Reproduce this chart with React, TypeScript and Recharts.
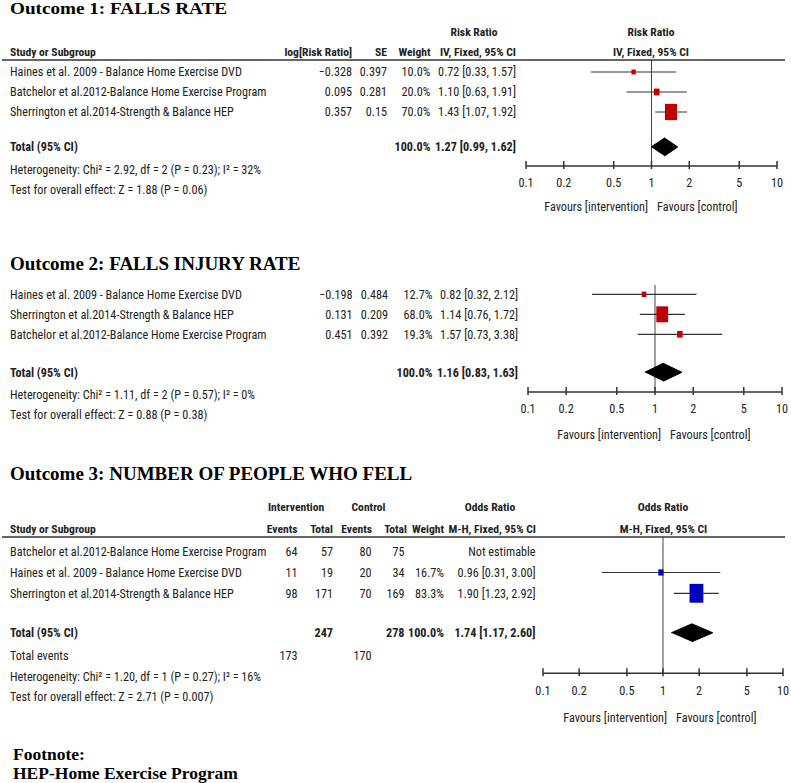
import React from 'react';
import { ScatterChart, Scatter, XAxis, YAxis, ReferenceLine } from 'recharts';

// Outcome 1: falls rate (risk ratio, IV fixed)
const o1Studies = [
  'Haines et al. 2009 - Balance Home Exercise DVD',
  'Batchelor et al.2012-Balance Home Exercise Program',
  'Sherrington et al.2014-Strength & Balance HEP',
];
const o1LogRR = ['\u22120.328', '0.095', '0.357'];
const o1SE = ['0.397', '0.281', '0.15'];
const o1Weight = [10.0, 20.0, 70.0];
const o1Est = [0.72, 1.1, 1.43];
const o1Lo = [0.33, 0.63, 1.07];
const o1Hi = [1.57, 1.91, 1.92];
const o1Total = [1.27, 0.99, 1.62];

// Outcome 2: falls injury rate
const o2Studies = [
  'Haines et al. 2009 - Balance Home Exercise DVD',
  'Sherrington et al.2014-Strength & Balance HEP',
  'Batchelor et al.2012-Balance Home Exercise Program',
];
const o2LogRR = ['\u22120.198', '0.131', '0.451'];
const o2SE = ['0.484', '0.209', '0.392'];
const o2Weight = [12.7, 68.0, 19.3];
const o2Est = [0.82, 1.14, 1.57];
const o2Lo = [0.32, 0.76, 0.73];
const o2Hi = [2.12, 1.72, 3.38];
const o2Total = [1.16, 0.83, 1.63];

// Outcome 3: number of people who fell (odds ratio, M-H fixed)
const o3Studies = [
  'Batchelor et al.2012-Balance Home Exercise Program',
  'Haines et al. 2009 - Balance Home Exercise DVD',
  'Sherrington et al.2014-Strength & Balance HEP',
];
const o3IntEvents = [64, 11, 98];
const o3IntTotal = [57, 19, 171];
const o3CtlEvents = [80, 20, 70];
const o3CtlTotal = [75, 34, 169];
const o3Weight: (number | null)[] = [null, 16.7, 83.3];
const o3Est: (number | null)[] = [null, 0.96, 1.9];
const o3Lo: (number | null)[] = [null, 0.31, 1.23];
const o3Hi: (number | null)[] = [null, 3.0, 2.92];
const o3Total = [1.74, 1.17, 2.6];
const o3TotalN = [247, 278];
const o3TotalEvents = [173, 170];

const xTicks = [0.1, 0.2, 0.5, 1, 2, 5, 10];

const NARROW = "'Liberation Sans Narrow', 'Arial Narrow', 'Roboto Condensed', sans-serif";
const SERIF = "'Liberation Serif', 'Times New Roman', serif";
const INK = '#222';
const FS = 12.2;
const HFS = 11.6;

const ci = (e: number, l: number, h: number) => `${e.toFixed(2)} [${l.toFixed(2)}, ${h.toFixed(2)}]`;
const pct = (w: number) => `${w.toFixed(1)}%`;

type Row = { y: number; label: string; cells: string[]; bold?: boolean };
type Pt = { x: number; y: number; lo: number; hi: number; w: number };

type PanelProps = {
  plotTop: number;
  plotBottom: number;
  firstRow: number;
  rowGap: number;
  axisLeft: number;
  axisRight: number;
  cellX: number[];
  rows: Row[];
  points: Pt[];
  total: number[];
  totalRow: number;
  color: string;
};

function XTick(props: any) {
  const { x, y, payload } = props;
  return (
    <g>
      <line x1={x} x2={x} y1={y - 5} y2={y + 3} stroke="#333" strokeWidth={1.5} />
      <text x={x} y={y + 17} dy="0.35em" textAnchor="middle" fill={INK} fontFamily={NARROW} fontSize={FS}>
        {String(payload.value)}
      </text>
    </g>
  );
}

function ForestPanel(p: PanelProps) {
  const h = p.plotBottom - p.plotTop;
  const domain: [number, number] = [
    (p.plotTop - p.firstRow) / p.rowGap,
    (p.plotBottom - p.firstRow) / p.rowGap,
  ];
  const half = 9 / p.rowGap;
  const diamond = [
    { x: p.total[1], y: p.totalRow },
    { x: p.total[0], y: p.totalRow - half },
    { x: p.total[2], y: p.totalRow },
    { x: p.total[0], y: p.totalRow + half },
  ];

  const RowTick = (tp: any) => {
    const row = p.rows.find((r) => r.y === tp.payload.value);
    if (!row) return <g />;
    const weight = row.bold ? 'bold' : 'normal';
    return (
      <g fontFamily={NARROW} fontSize={FS} fill={INK} fontWeight={weight}>
        <text x={10} y={tp.y} dy="0.35em">{row.label}</text>
        {row.cells.map((c, i) => (
          <text key={i} x={p.cellX[i]} y={tp.y} dy="0.35em" textAnchor="end">{c}</text>
        ))}
      </g>
    );
  };

  const Square = (sp: any) => {
    const w = sp.payload.w;
    const bw = 3 + 0.13 * w;
    const bh = 3 + 0.19 * w;
    return <rect x={sp.cx - bw / 2} y={sp.cy - bh / 2} width={bw} height={bh} fill={p.color} />;
  };

  return (
    <div style={{ position: 'absolute', left: 0, top: p.plotTop }}>
      <ScatterChart
        width={791}
        height={h + 32}
        margin={{ top: 0, right: 791 - p.axisRight, bottom: 0, left: 0 }}
      >
        <XAxis
          dataKey="x"
          type="number"
          scale="log"
          domain={[0.1, 10]}
          ticks={xTicks}
          interval={0}
          allowDataOverflow
          tickLine={false}
          tickSize={0}
          tickMargin={0}
          axisLine={{ stroke: '#333', strokeWidth: 1.5 }}
          tick={<XTick />}
          height={32}
        />
        <YAxis
          dataKey="y"
          type="number"
          reversed
          domain={domain}
          allowDataOverflow
          ticks={p.rows.map((r) => r.y)}
          interval={0}
          width={p.axisLeft}
          axisLine={false}
          tickLine={false}
          tick={<RowTick />}
        />
        <ReferenceLine x={1} stroke="#444" strokeWidth={1} />
        {p.points.map((pt, i) => (
          <Scatter
            key={`ci${i}`}
            data={[
              { x: pt.lo, y: pt.y },
              { x: pt.hi, y: pt.y },
            ]}
            line={{ stroke: '#333', strokeWidth: 1.2 }}
            lineType="joint"
            shape={() => <g />}
            isAnimationActive={false}
          />
        ))}
        <Scatter data={p.points} fill={p.color} shape={<Square />} isAnimationActive={false} />
        <Scatter
          data={diamond}
          fill="#000"
          line={{ fill: '#000', stroke: '#000', strokeWidth: 1 }}
          lineType="joint"
          shape={() => <g />}
          isAnimationActive={false}
        />
      </ScatterChart>
    </div>
  );
}

const o1Rows: Row[] = [
  ...o1Studies.map((s, i) => ({
    y: i,
    label: s,
    cells: [o1LogRR[i], o1SE[i], pct(o1Weight[i]), ci(o1Est[i], o1Lo[i], o1Hi[i])],
  })),
  { y: 3.75, label: 'Total (95% CI)', cells: ['', '', '100.0%', ci(o1Total[0], o1Total[1], o1Total[2])], bold: true },
];
const o1Points: Pt[] = o1Studies.map((_, i) => ({ x: o1Est[i], y: i, lo: o1Lo[i], hi: o1Hi[i], w: o1Weight[i] }));

const o2Rows: Row[] = [
  ...o2Studies.map((s, i) => ({
    y: i,
    label: s,
    cells: [o2LogRR[i], o2SE[i], pct(o2Weight[i]), ci(o2Est[i], o2Lo[i], o2Hi[i])],
  })),
  { y: 3.9, label: 'Total (95% CI)', cells: ['', '', '100.0%', ci(o2Total[0], o2Total[1], o2Total[2])], bold: true },
];
const o2Points: Pt[] = o2Studies.map((_, i) => ({ x: o2Est[i], y: i, lo: o2Lo[i], hi: o2Hi[i], w: o2Weight[i] }));

const o3Rows: Row[] = [
  ...o3Studies.map((s, i) => {
    const w = o3Weight[i];
    const e = o3Est[i];
    return {
      y: i,
      label: s,
      cells: [
        String(o3IntEvents[i]),
        String(o3IntTotal[i]),
        String(o3CtlEvents[i]),
        String(o3CtlTotal[i]),
        w === null ? '' : pct(w),
        e === null ? 'Not estimable' : ci(e, o3Lo[i] as number, o3Hi[i] as number),
      ],
    };
  }),
  {
    y: 3.9,
    label: 'Total (95% CI)',
    cells: ['', String(o3TotalN[0]), '', String(o3TotalN[1]), '100.0%', ci(o3Total[0], o3Total[1], o3Total[2])],
    bold: true,
  },
  { y: 5.0, label: 'Total events', cells: [String(o3TotalEvents[0]), '', String(o3TotalEvents[1]), '', '', ''] },
];
const o3Points: Pt[] = o3Studies
  .map((_, i) => ({ i, e: o3Est[i] }))
  .filter((d) => d.e !== null)
  .map(({ i }) => ({
    x: o3Est[i] as number,
    y: i,
    lo: o3Lo[i] as number,
    hi: o3Hi[i] as number,
    w: o3Weight[i] as number,
  }));

function T(props: any) {
  const { children, bold, serif, size, ...rest } = props;
  return (
    <text
      dy="0.35em"
      fill={serif ? '#000' : INK}
      fontFamily={serif ? SERIF : NARROW}
      fontSize={size ?? (bold ? HFS : FS)}
      fontWeight={bold ? 'bold' : 'normal'}
      {...rest}
    >
      {children}
    </text>
  );
}

export default function App() {
  return (
    <div style={{ position: 'relative', width: 791, height: 783, background: '#fff', overflow: 'hidden' }}>
      <style>{'body{margin:0}'}</style>
      <ForestPanel
        plotTop={60}
        plotBottom={166}
        firstRow={72}
        rowGap={20}
        axisLeft={526}
        axisRight={777}
        cellX={[352, 387, 430.5, 516]}
        rows={o1Rows}
        points={o1Points}
        total={o1Total}
        totalRow={3.75}
        color="#c00000"
      />
      <ForestPanel
        plotTop={285}
        plotBottom={392}
        firstRow={294.3}
        rowGap={20}
        axisLeft={528}
        axisRight={782}
        cellX={[352.5, 388, 432.5, 518]}
        rows={o2Rows}
        points={o2Points}
        total={o2Total}
        totalRow={3.9}
        color="#c00000"
      />
      <ForestPanel
        plotTop={537}
        plotBottom={673.3}
        firstRow={551.7}
        rowGap={20.8}
        axisLeft={543}
        axisRight={783}
        cellX={[297.5, 333, 371.5, 404.5, 444, 535.5]}
        rows={o3Rows}
        points={o3Points}
        total={o3Total}
        totalRow={3.9}
        color="#0000c0"
      />
      <svg width={791} height={783} style={{ position: 'absolute', left: 0, top: 0, pointerEvents: 'none' }}>
        {/* Outcome 1 */}
        <T x={10} y={8.5} serif bold size={16} textLength={217} lengthAdjust="spacingAndGlyphs">
          Outcome 1: FALLS RATE
        </T>
        <T x={474} y={32} bold textAnchor="middle">Risk Ratio</T>
        <T x={651} y={32} bold textAnchor="middle">Risk Ratio</T>
        <T x={10} y={52} bold>Study or Subgroup</T>
        <T x={352} y={52} bold textAnchor="end">log[Risk Ratio]</T>
        <T x={387} y={52} bold textAnchor="end">SE</T>
        <T x={430.5} y={52} bold textAnchor="end">Weight</T>
        <T x={478} y={52} bold textAnchor="middle">IV, Fixed, 95% CI</T>
        <T x={651} y={52} bold textAnchor="middle">IV, Fixed, 95% CI</T>
        <line x1={2} x2={785} y1={60} y2={60} stroke="#333" strokeWidth={1.5} />
        <T x={10} y={170}>Heterogeneity: Chi² = 2.92, df = 2 (P = 0.23); I² = 32%</T>
        <T x={10} y={190}>Test for overall effect: Z = 1.88 (P = 0.06)</T>
        <T x={648} y={207} textAnchor="end">Favours [intervention]</T>
        <T x={657} y={207}>Favours [control]</T>

        {/* Outcome 2 */}
        <T x={10} y={263.5} serif bold size={19}>Outcome 2: FALLS INJURY RATE</T>
        <T x={10} y={395}>Heterogeneity: Chi² = 1.11, df = 2 (P = 0.57); I² = 0%</T>
        <T x={10} y={415}>Test for overall effect: Z = 0.88 (P = 0.38)</T>
        <T x={661} y={435} textAnchor="end">Favours [intervention]</T>
        <T x={670} y={435}>Favours [control]</T>

        {/* Outcome 3 */}
        <T x={10} y={473.3} serif bold size={19}>Outcome 3: NUMBER OF PEOPLE WHO FELL</T>
        <T x={296} y={507} bold textAnchor="middle">Intervention</T>
        <T x={368.5} y={507} bold textAnchor="middle">Control</T>
        <T x={490} y={507} bold textAnchor="middle">Odds Ratio</T>
        <T x={663} y={507} bold textAnchor="middle">Odds Ratio</T>
        <T x={10} y={528.5} bold>Study or Subgroup</T>
        <T x={297.5} y={528.5} bold textAnchor="end">Events</T>
        <T x={333} y={528.5} bold textAnchor="end">Total</T>
        <T x={372} y={528.5} bold textAnchor="end">Events</T>
        <T x={407} y={528.5} bold textAnchor="end">Total</T>
        <T x={444} y={528.5} bold textAnchor="end">Weight</T>
        <T x={536} y={528.5} bold textAnchor="end">M-H, Fixed, 95% CI</T>
        <T x={663.5} y={528.5} bold textAnchor="middle">M-H, Fixed, 95% CI</T>
        <line x1={2} x2={785} y1={537} y2={537} stroke="#333" strokeWidth={1.5} />
        <T x={10} y={677}>Heterogeneity: Chi² = 1.20, df = 1 (P = 0.27); I² = 16%</T>
        <T x={10} y={697}>Test for overall effect: Z = 2.71 (P = 0.007)</T>
        <T x={667} y={718} textAnchor="end">Favours [intervention]</T>
        <T x={676} y={718}>Favours [control]</T>

        {/* Footnote */}
        <T x={13} y={754} serif bold size={17.5}>Footnote:</T>
        <T x={13} y={773} serif bold size={17.5}>HEP-Home Exercise Program</T>
      </svg>
    </div>
  );
}
